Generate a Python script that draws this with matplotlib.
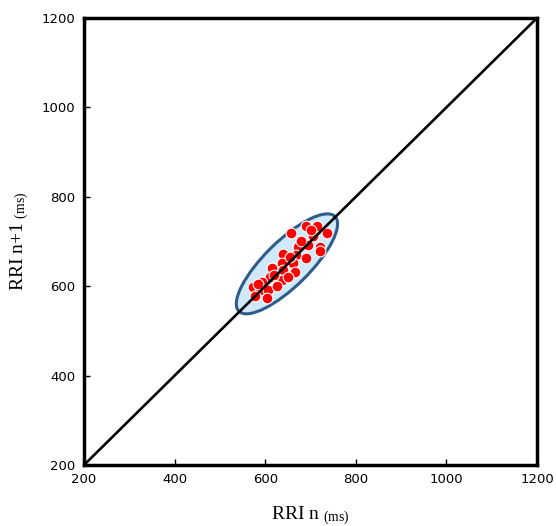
import matplotlib
matplotlib.use("Agg")
import matplotlib.pyplot as plt
from matplotlib.patches import Ellipse

# Data (ms)
rri_n = [658, 690, 714, 736, 706, 673, 695, 721, 721, 640, 669, 690, 636, 662,
         614, 640, 666, 610, 636, 592, 574, 588, 607, 577, 603, 680, 650, 625,
         700, 655, 620, 585]
rri_n1 = [718, 735, 735, 718, 712, 688, 692, 688, 679, 673, 670, 662, 651, 651,
          640, 636, 632, 620, 614, 610, 599, 592, 592, 577, 573, 700, 620, 600,
          725, 665, 625, 605]
identity = [200, 1200]
ticks = [200, 400, 600, 800, 1000, 1200]
ellipse_center = (648, 650)
ellipse_size = (300, 100)   # full width/height in data units
ellipse_angle = 45

plt.rcParams['mathtext.default'] = 'regular'
fig = plt.figure(figsize=(5.56, 5.26), dpi=100)
ax = fig.add_axes([84/556, 61/526, (537-84)/556, (465-18)/526])

ell = Ellipse(ellipse_center, ellipse_size[0], ellipse_size[1], angle=ellipse_angle,
              facecolor='#cfe9fa', edgecolor='#2e5c8a', linewidth=2.2, zorder=2)
ax.add_patch(ell)
ax.scatter(rri_n, rri_n1, s=60, c='#ff0000', edgecolors='white', linewidths=0.8, zorder=3)
ax.plot(identity, identity, color='black', linewidth=1.9, zorder=4)

ax.set_xlim(200, 1200)
ax.set_ylim(200, 1200)
ax.set_xticks(ticks)
ax.set_yticks(ticks)
ax.tick_params(direction='in', length=4, width=1, labelsize=9.5, pad=6, colors='black')
for lbl in ax.get_xticklabels() + ax.get_yticklabels():
    lbl.set_family('DejaVu Sans')
for s in ax.spines.values():
    s.set_linewidth(2.5)

ax.set_xlabel('RRI n $_{(ms)}$', family='Liberation Serif', fontsize=14, labelpad=13)
ax.set_ylabel('RRI n+1 $_{(ms)}$', family='Liberation Serif', fontsize=14, labelpad=8)

fig.savefig('out.png', dpi=100)
